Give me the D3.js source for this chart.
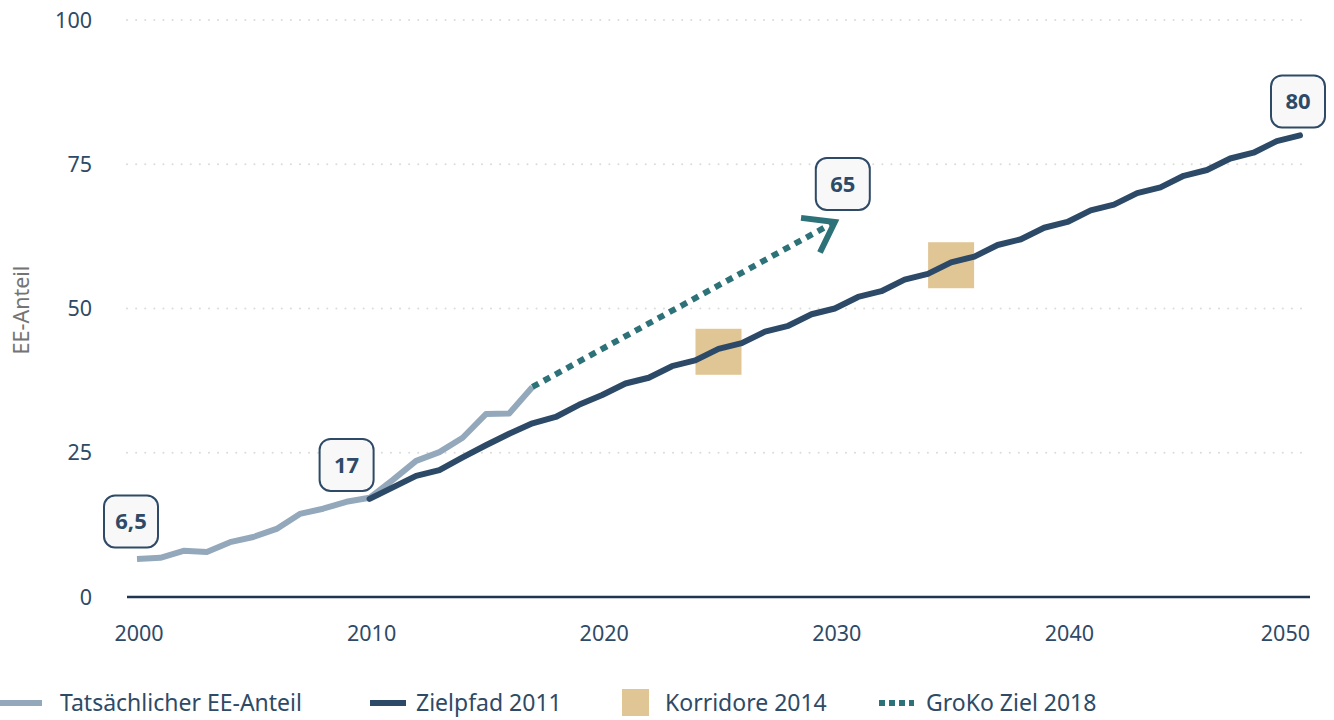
<!DOCTYPE html>
<html><head><meta charset="utf-8">
<script src="https://cdn.jsdelivr.net/npm/d3@7"></script>
<style>
html,body{margin:0;padding:0;background:#fff;}
text{font-family:"Noto Sans",sans-serif;}
</style></head>
<body><svg id="c" width="1334" height="720"></svg>
<script>
const actualYears = [2000,2001,2002,2003,2004,2005,2006,2007,2008,2009,2010,2011,2012,2013,2014,2015,2016,2017];
const actualValues = [6.6,6.8,8.0,7.8,9.5,10.4,11.8,14.4,15.3,16.5,17.2,20.3,23.6,25.1,27.6,31.7,31.8,36.4];
const pathYears = [2010,2011,2012,2013,2014,2015,2016,2017,2018,2019,2020,2021,2022,2023,2024,2025,2026,2027,2028,2029,2030,2031,2032,2033,2034,2035,2036,2037,2038,2039,2040,2041,2042,2043,2044,2045,2046,2047,2048,2049,2050];
const pathValues = [17,19,21,22,24.2,26.3,28.3,30.1,31.2,33.3,35,37,38,40,41,43,44,46,47,49,50,52,53,55,56,58,59,61,62,64,65,67,68,70,71,73,74,76,77,79,80];
const corridorYears = [2025,2035];
const corridorLow = [40,55];
const corridorHigh = [45,60];
const grokoYears = [2017,2030];
const grokoValues = [36.4,65];
const annotYears = [2000,2010,2030,2050];
const annotValues = [6.5,17,65,80];
const annotLabels = ["6,5","17","65","80"];
const xTicks = [2000,2010,2020,2030,2040,2050];
const yTicks = [0,25,50,75,100];
const legendLabels = ["Tatsächlicher EE-Anteil","Zielpfad 2011","Korridore 2014","GroKo Ziel 2018"];

const C = {actual:"#94a8bc", path:"#2c4a67", corr:"#e0c595", groko:"#2d7278", text:"#2e4a66"};
const svg = d3.select("#c");
const x = d3.scaleLinear().domain([2000,2050]).range([137,1300]);
const y = d3.scaleLinear().domain([0,100]).range([597,20]);
const xL = 127, xR = 1310;

// gridlines
svg.append("g").selectAll("line").data(yTicks.filter(d=>d>0)).join("line")
  .attr("x1",xL).attr("x2",xR).attr("y1",d=>y(d)).attr("y2",d=>y(d))
  .attr("stroke","#dcdcdc").attr("stroke-width",2).attr("stroke-dasharray","0.1 9").attr("stroke-linecap","round");

// y tick labels
svg.append("g").selectAll("text").data(yTicks).join("text")
  .attr("x",92).attr("y",d=>y(d)).attr("dy","0.35em").attr("text-anchor","end")
  .attr("fill",C.text).attr("font-size",21.5).text(d=>d);

// x axis line
svg.append("line").attr("x1",xL).attr("x2",xR).attr("y1",y(0)).attr("y2",y(0))
  .attr("stroke","#1f3550").attr("stroke-width",2.5);
// x tick labels
svg.append("g").selectAll("text").data(xTicks).join("text")
  .attr("x",(d,i)=> i===xTicks.length-1 ? xR : x(d)+2)
  .attr("y",641).attr("text-anchor",(d,i)=> i===xTicks.length-1 ? "end":"middle")
  .attr("fill",C.text).attr("font-size",21.5).text(d=>d);

// y title
svg.append("text").attr("transform","translate(29,310) rotate(-90)").attr("text-anchor","middle")
  .attr("fill","#747474").attr("font-size",21.5).text("EE-Anteil");

// corridors
const sq = 46;
svg.append("g").selectAll("rect").data(corridorYears).join("rect")
  .attr("x",d=>x(d)-sq/2).attr("y",(d,i)=>y((corridorLow[i]+corridorHigh[i])/2)-sq/2)
  .attr("width",sq).attr("height",sq).attr("fill",C.corr);

const line = d3.line().x(d=>x(d[0])).y(d=>y(d[1]));
// actual
svg.append("path").attr("d",line(actualYears.map((d,i)=>[d,actualValues[i]])))
  .attr("fill","none").attr("stroke",C.actual).attr("stroke-width",6).attr("stroke-linejoin","round");
// path 2011
svg.append("path").attr("d",line(pathYears.map((d,i)=>[d,pathValues[i]])))
  .attr("fill","none").attr("stroke",C.path).attr("stroke-width",6).attr("stroke-linejoin","round").attr("stroke-linecap","round");
// groko
const gx0=x(grokoYears[0]), gy0=y(grokoValues[0]), gx1=x(grokoYears[1]), gy1=y(grokoValues[1]);
svg.append("path").attr("d",line(grokoYears.map((d,i)=>[d,grokoValues[i]])))
  .attr("fill","none").attr("stroke",C.groko).attr("stroke-width",6).attr("stroke-dasharray","7 6");
// arrowhead (chevron)
const ang = Math.atan2(gy1-gy0, gx1-gx0);
const al = 34, aw = 0.62;
const tipx = gx1, tipy = gy1;
const p1 = [tipx - al*Math.cos(ang-aw), tipy - al*Math.sin(ang-aw)];
const p2 = [tipx - al*Math.cos(ang+aw), tipy - al*Math.sin(ang+aw)];
svg.append("path").attr("d",`M${p1[0]},${p1[1]}L${tipx},${tipy}L${p2[0]},${p2[1]}`)
  .attr("fill","none").attr("stroke",C.groko).attr("stroke-width",6).attr("stroke-linejoin","miter");

// annotation boxes
const annOff = [[-6,-38],[-23,-34],[8,-38],[-2,-34]];
const ag = svg.append("g").selectAll("g").data(annotYears).join("g")
  .attr("transform",(d,i)=>`translate(${x(d)+annOff[i][0]},${y(annotValues[i])+annOff[i][1]})`);
ag.append("rect").attr("x",-27).attr("y",-26).attr("width",54).attr("height",52).attr("rx",11)
  .attr("fill","#f8f8f8").attr("stroke",C.text).attr("stroke-width",2);
ag.append("text").attr("text-anchor","middle").attr("dy","0.35em").attr("font-size",22).attr("font-weight","bold")
  .attr("fill",C.text).text((d,i)=>annotLabels[i]);

// legend
const ly = 703;
const lg = svg.append("g");
lg.append("line").attr("x1",0).attr("x2",42).attr("y1",ly).attr("y2",ly).attr("stroke",C.actual).attr("stroke-width",6);
lg.append("line").attr("x1",370).attr("x2",406).attr("y1",ly).attr("y2",ly).attr("stroke",C.path).attr("stroke-width",6);
lg.append("rect").attr("x",622).attr("y",ly-14).attr("width",27).attr("height",27).attr("fill",C.corr);
lg.append("line").attr("x1",879).attr("x2",914).attr("y1",ly).attr("y2",ly).attr("stroke",C.groko).attr("stroke-width",6).attr("stroke-dasharray","6 4");
const lx = [60,416,665,926];
lg.selectAll("text").data(legendLabels).join("text").attr("x",(d,i)=>lx[i]).attr("y",ly).attr("dy","0.35em")
  .attr("fill",C.text).attr("font-size",23).text(d=>d);
</script></body></html>
